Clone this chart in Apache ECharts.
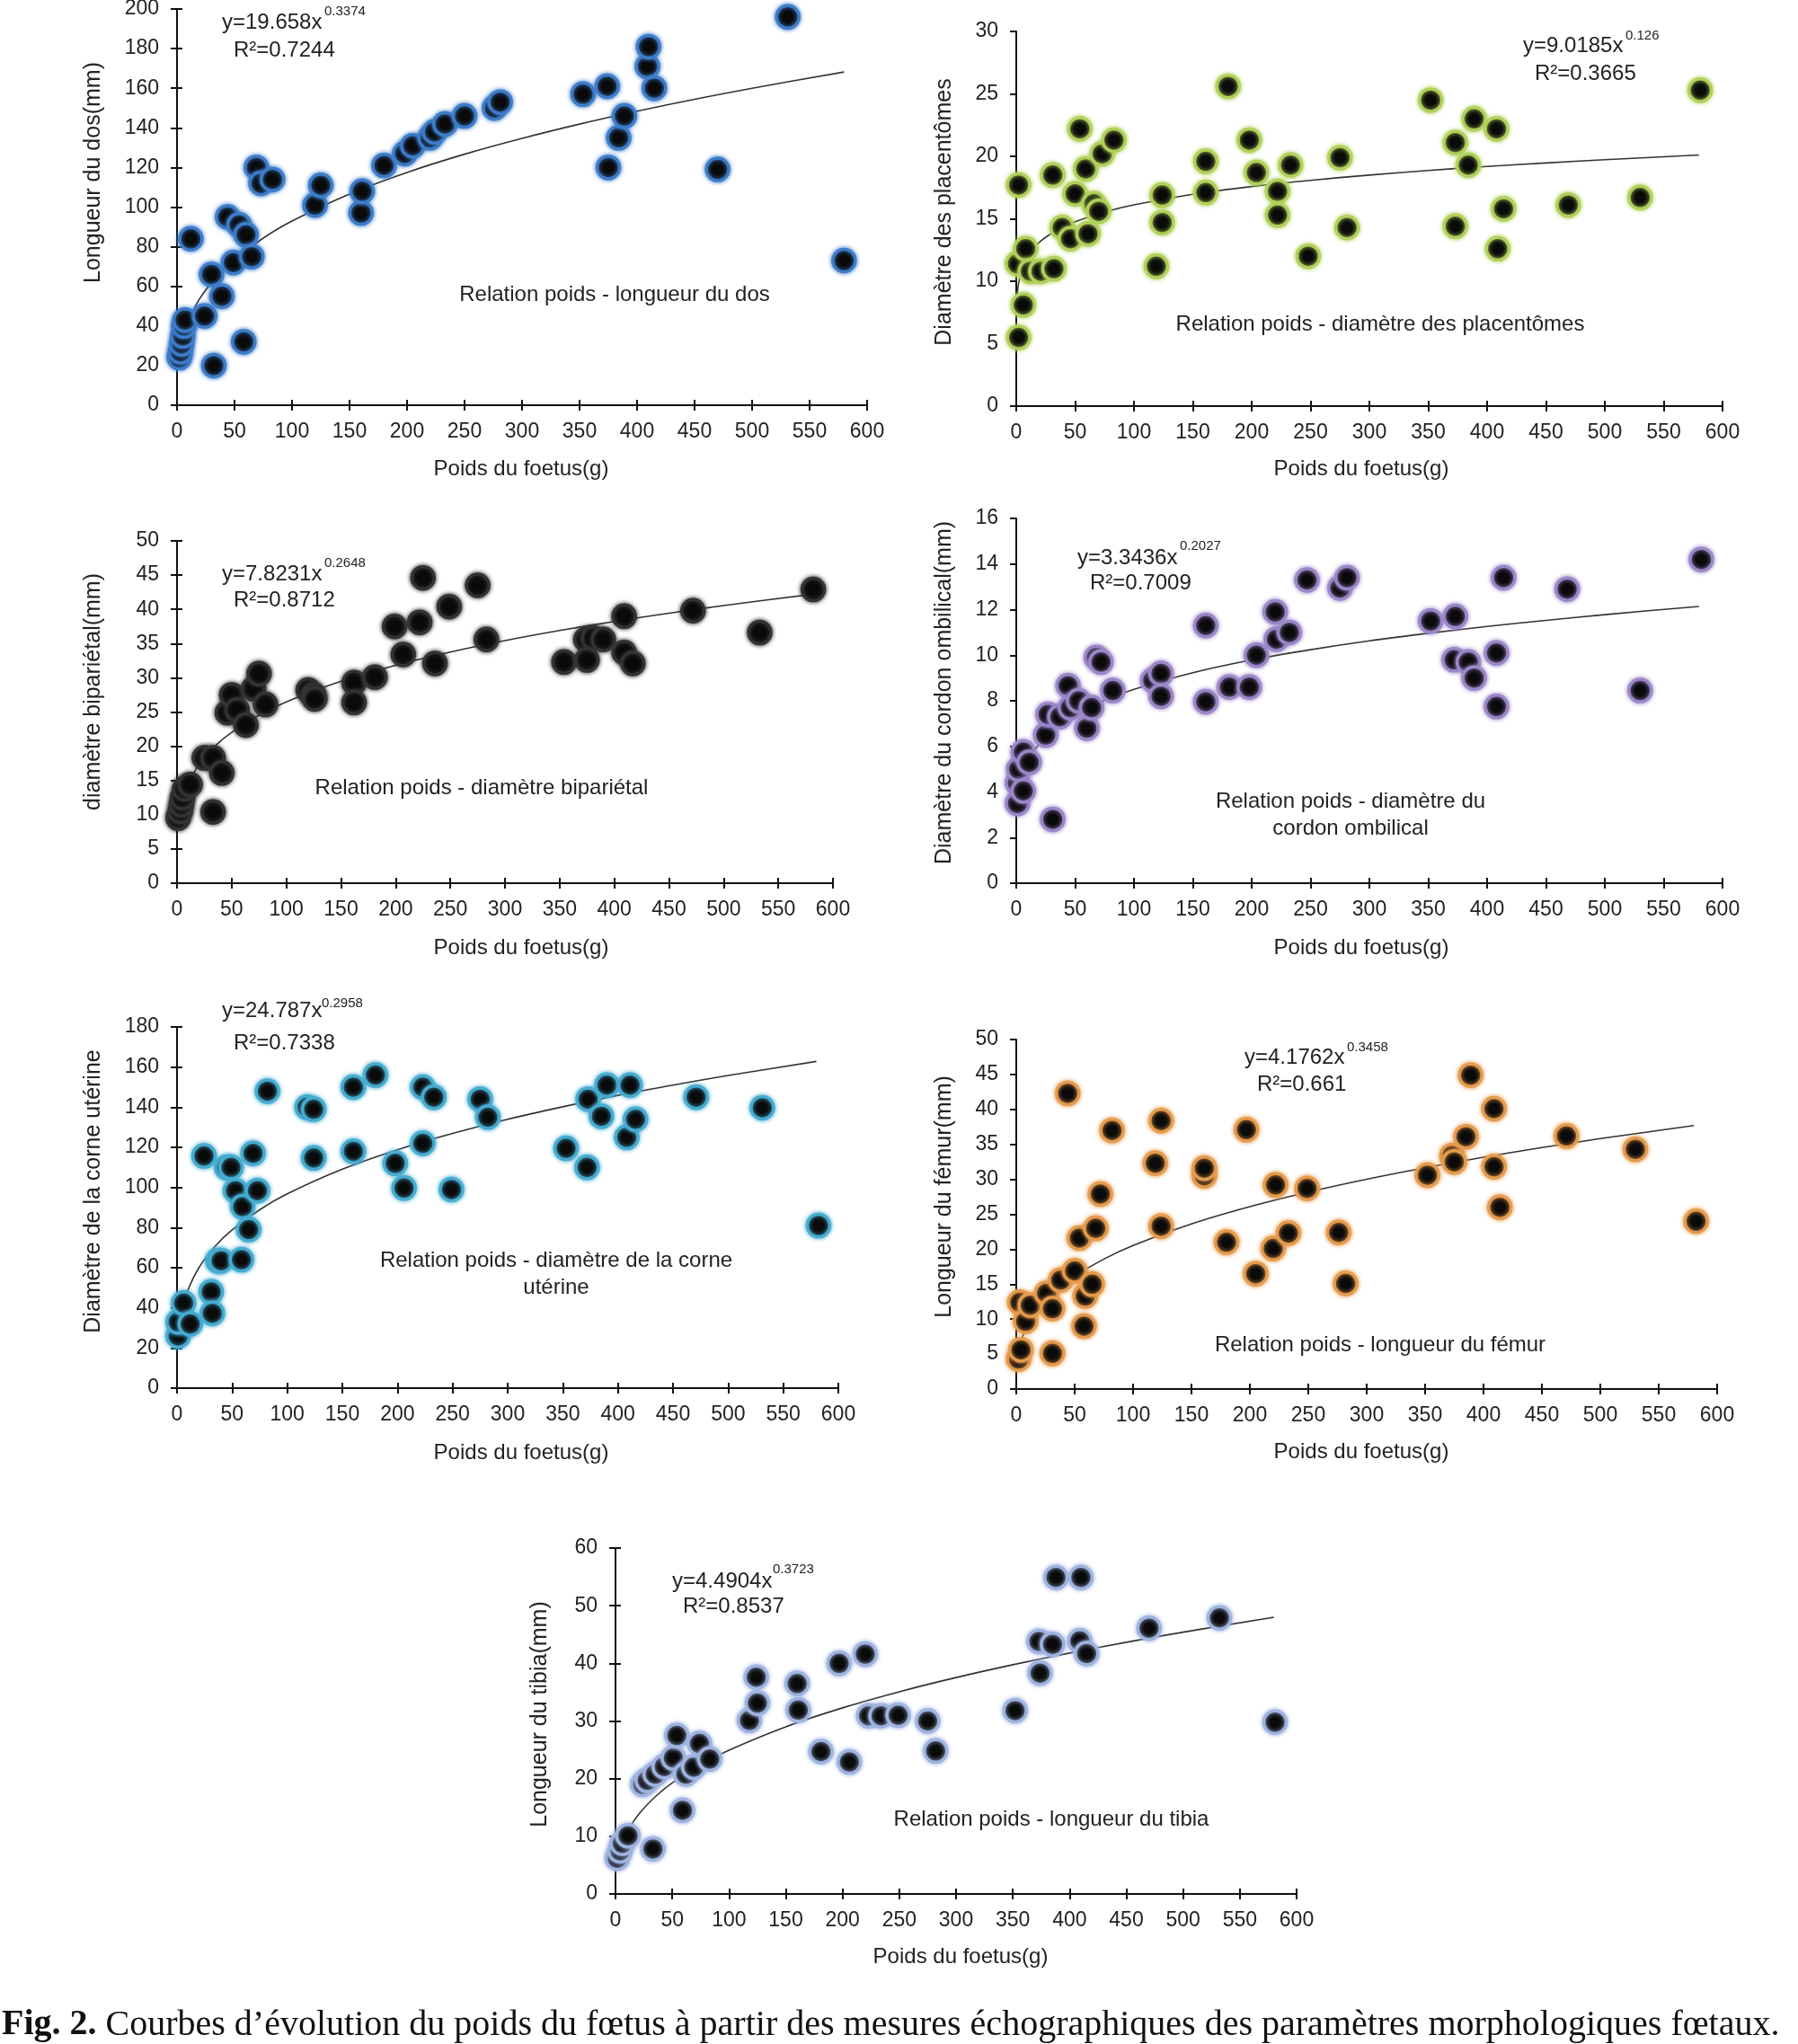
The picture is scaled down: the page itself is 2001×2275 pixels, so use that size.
<!DOCTYPE html>
<html><head><meta charset="utf-8">
<script src="https://cdn.jsdelivr.net/npm/echarts@6/dist/echarts.min.js"></script>
<style>html,body{margin:0;padding:0;background:#fff;}#c{width:2001px;height:2275px;}</style>
</head><body><div id="c"></div>
<script>
// ---- data (fetal weight g, measurement) ----
const dosPts = [[2,24],[3,27],[4,31],[5,35],[6,40],[7,43],[12,84],[24,45],[30,66],[32,20],[39,55],[44,95],[49,72],[54,91],[58,32],[60,86],[65,75],[69,120],[73,112],[83,114],[120,101],[125,111],[160,97],[161,108],[180,121],[198,127],[205,131],[220,135],[224,138],[233,142],[250,146],[276,150],[281,153],[353,157],[374,161],[375,120],[384,135],[389,146],[409,171],[410,181],[415,160],[470,119],[531,196],[580,73]];
const placPts = [[2,17.7],[2,5.5],[6,8.1],[1,11.4],[8,12.6],[12,10.8],[21,10.8],[32,11.0],[31,18.5],[39,14.3],[46,13.4],[50,17.0],[54,22.2],[59,19.0],[61,13.8],[66,16.2],[70,15.6],[73,20.2],[83,21.3],[119,11.2],[124,16.9],[124,14.7],[161,19.6],[161,17.1],[180,25.6],[198,21.3],[204,18.7],[222,17.2],[222,15.3],[233,19.3],[248,12.0],[275,19.9],[281,14.3],[352,24.5],[373,21.1],[373,14.4],[384,19.3],[389,23.0],[408,22.2],[409,12.6],[414,15.8],[469,16.1],[530,16.7],[581,25.3]];
const bipPts = [[1,9.5],[3,10.5],[4,11.5],[5,12.5],[7,13.8],[12,14.4],[25,18.3],[33,18.3],[33,10.4],[41,16.1],[46,24.9],[50,27.5],[55,25.3],[63,23.1],[70,28.4],[75,30.6],[81,26.1],[120,28.2],[125,27.5],[126,26.9],[162,29.3],[162,26.4],[181,30.1],[199,37.5],[207,33.4],[222,38.1],[225,44.6],[236,32.1],[249,40.4],[275,43.5],[283,35.6],[354,32.3],[374,35.6],[375,32.6],[381,35.8],[390,35.6],[409,39.0],[409,33.7],[417,32.1],[472,39.8],[533,36.6],[582,42.9]];
const cordPts = [[1,3.5],[1,4.4],[2,5.0],[6,4.05],[6,5.75],[11,5.3],[25,6.5],[27,7.4],[31,2.8],[37,7.3],[44,8.66],[46,7.7],[53,8.0],[60,6.8],[64,7.7],[68,9.9],[72,9.7],[82,8.45],[116,8.9],[123,9.2],[123,8.2],[161,11.3],[161,7.96],[181,8.6],[198,8.6],[204,10.0],[220,11.9],[221,10.7],[232,11.0],[247,13.3],[275,12.95],[281,13.4],[352,11.5],[372,9.8],[373,11.7],[384,9.7],[389,9.0],[408,10.1],[408,7.75],[414,13.4],[468,12.9],[530,8.45],[582,14.2]];
const cornePts = [[1,26],[1,33],[6,42.4],[12,32],[24.5,115.7],[31,48],[32,37.3],[37,63.5],[40,63.5],[45,110],[49,110],[53,98.4],[58.5,64],[59.5,90.4],[65,79],[69,117],[73,98.4],[82,148],[118,140],[124,139],[124,114.7],[160,150],[160,118],[180,156],[198,112],[206,99.7],[223,150],[223,122],[233,145],[249,99],[275,144],[282,135],[353,119.5],[372,110],[373,144],[385,135.5],[390,151],[408,125],[411,151],[416,134],[471,145],[531,139.7],[582,81]];
const femurPts = [[2,4.3],[4,5.6],[3,12.4],[8,9.7],[12,12.0],[26,13.7],[31,11.5],[31,5.1],[38,15.6],[44,42.3],[50,16.9],[54,21.6],[58,9.0],[59,13.3],[65,15.0],[68,23.0],[72,27.9],[82,37],[119,32.3],[124,38.4],[124,23.3],[161,30.5],[161,31.6],[180,21],[197,37.1],[205,16.5],[220,20.1],[222,29.2],[233,22.3],[249,28.7],[276,22.4],[282,15.1],[352,30.6],[373,33.4],[375,32.5],[385,36.1],[389,44.9],[409,40.1],[409,31.8],[414,26],[471,36.2],[530,34.3],[582,24]];
const tibiaPts = [[1.5,6.2],[4,7.5],[6,8.8],[11,10.1],[24,19],[28,19.7],[33,7.8],[35,20.8],[43,22.1],[51,23.6],[54,27.5],[59,14.5],[62,20.8],[69,22.0],[74,26.1],[83,23.4],[118,30.1],[124,37.6],[125,33.1],[160,36.5],[161,31.9],[181,24.7],[197,40.0],[206,22.9],[220,41.6],[223,30.9],[234,30.9],[249,31],[275,30.0],[282,24.8],[352,31.8],[373,43.8],[374,38.3],[385,43.3],[388,54.9],[409,43.9],[410,54.9],[415,41.7],[470,46.1],[532,47.9],[581,29.8]];

// trend curves (power fits shown on the figure), sampled at these weights
const trendX = [1,2,5,10,20,35,50,75,100,150,200,250,300,350,400,450,500,580];
const dosTrend = [19.66,24.84,33.83,42.75,54.02,65.24,73.58,84.37,92.97,106.6,117.5,126.7,134.7,141.9,148.4,154.4,160.0,168.2];
const placTrend = [9.02,9.84,11.05,12.05,13.15,14.12,14.76,15.54,16.11,16.96,17.58,18.08,18.50,18.87,19.19,19.47,19.73,20.11];
const bipTrend = [7.82,9.40,11.98,14.39,17.29,20.06,22.04,24.54,26.49,29.49,31.82,33.76,35.43,36.90,38.23,39.44,40.56,42.18];
const cordTrend = [3.34,3.85,4.63,5.33,6.14,6.87,7.39,8.02,8.50,9.23,9.79,10.24,10.63,10.96,11.26,11.53,11.78,12.14];
const corneTrend = [24.79,30.43,39.90,48.98,60.13,70.95,78.85,88.90,96.79,109.1,118.8,126.9,134.0,140.2,145.9,151.0,155.8,162.8];
const femurTrend = [4.18,5.31,7.29,9.26,11.77,14.28,16.16,18.59,20.53,23.62,26.09,28.18,30.02,31.66,33.16,34.54,35.82,37.70];
const tibiaTrend = [4.49,5.81,8.18,10.58,13.70,16.87,19.27,22.40,24.94,29.00,32.28,35.08,37.54,39.76,41.79,43.66,45.41,47.99];

const xTitle = 'Poids du foetus(g)';
const yTitles = ['Longueur du dos(mm)','Diamètre des placentômes','diamètre bipariétal(mm)','Diamètre du cordon ombilical(mm)','Diamètre de la corne utérine','Longueur du fémur(mm)','Longueur du tibia(mm)'];
const equations = [['y=19.658x','0.3374','R²=0.7244'],['y=9.0185x','0.126','R²=0.3665'],['y=7.8231x','0.2648','R²=0.8712'],['y=3.3436x','0.2027','R²=0.7009'],['y=24.787x','0.2958','R²=0.7338'],['y=4.1762x','0.3458','R²=0.661'],['y=4.4904x','0.3723','R²=0.8537']];
const relations = [['Relation poids - longueur du dos'],['Relation poids - diamètre des placentômes'],['Relation poids - diamètre bipariétal'],['Relation poids - diamètre du','cordon ombilical'],['Relation poids - diamètre de la corne','utérine'],['Relation poids - longueur du fémur'],['Relation poids - longueur du tibia']];
const caption = 'Courbes d’évolution du poids du fœtus à partir des mesures échographiques des paramètres morphologiques fœtaux.';

// ---- layout ----
const FONT = '"Liberation Sans", Arial, sans-serif';
const panels = [
  {pts:dosPts, trend:dosTrend, yMax:200, yStep:20, color:'#3d7cc9', g:[197,10,768,441], cross:true,
   yt:[104,192], xt:[580,522], eq:[247,25], sup:[361,13], r2:[260,56], rel:[684,328]},
  {pts:placPts, trend:placTrend, yMax:30, yStep:5, color:'#b0d05a', g:[1131,35,786,417], cross:false,
   yt:[1051,236], xt:[1515,522], eq:[1695,51], sup:[1809,40], r2:[1708,82], rel:[1536,361]},
  {pts:bipPts, trend:bipTrend, yMax:50, yStep:5, color:'#333333', g:[197,602,730,381], cross:true,
   yt:[104,770], xt:[580,1055], eq:[247,639], sup:[361,627], r2:[260,668], rel:[536,877]},
  {pts:cordPts, trend:cordTrend, yMax:16, yStep:2, color:'#9a86c8', g:[1131,577,786,406], cross:false,
   yt:[1051,771], xt:[1515,1055], eq:[1199,621], sup:[1313,608], r2:[1213,649], rel:[1503,892]},
  {pts:cornePts, trend:corneTrend, yMax:180, yStep:20, color:'#46abd0', g:[197,1143,736,402], cross:true,
   yt:[104,1326], xt:[580,1617], eq:[247,1125], sup:[358,1117], r2:[260,1161], rel:[619,1403]},
  {pts:femurPts, trend:femurTrend, yMax:50, yStep:5, color:'#e59a4c', g:[1131,1157,780,389], cross:false,
   yt:[1051,1332], xt:[1515,1616], eq:[1385,1177], sup:[1499,1166], r2:[1399,1207], rel:[1536,1497]},
  {pts:tibiaPts, trend:tibiaTrend, yMax:60, yStep:10, color:'#9fb3e0', g:[685,1723,758,385], cross:true,
   yt:[601,1908], xt:[1069,2178], eq:[748,1760], sup:[860,1747], r2:[760,1788], rel:[1170,2025]}
];

const grids=[], xAxes=[], yAxes=[], series=[], graphics=[];
const AX = '#111';
panels.forEach((p,i)=>{
  grids.push({left:p.g[0], top:p.g[1], width:p.g[2], height:p.g[3], containLabel:false, outerBoundsMode:'none'});
  const line = {show:true, onZero:false, lineStyle:{color:AX, width:2}};
  xAxes.push({gridIndex:i, type:'value', position:'bottom', min:0, max:600, interval:50,
    axisLine:line, axisTick:{show:true, inside:false, length:6, lineStyle:{color:AX, width:2}},
    axisLabel:{fontFamily:FONT, fontSize:23, color:'#222', margin:18}, splitLine:{show:false}});
  xAxes.push({gridIndex:i, type:'value', position:'bottom', min:0, max:600, interval:50,
    axisLine:{show:false}, axisTick:{show:true, inside:true, length:6, lineStyle:{color:AX, width:2}},
    axisLabel:{show:false}, splitLine:{show:false}});
  yAxes.push({gridIndex:i, type:'value', position:'left', min:0, max:p.yMax, interval:p.yStep,
    axisLine:line, axisTick:{show:true, inside:false, length:7, lineStyle:{color:AX, width:2}},
    axisLabel:{fontFamily:FONT, fontSize:23, color:'#222', margin:20}, splitLine:{show:false}});
  yAxes.push({gridIndex:i, type:'value', position:'left', min:0, max:p.yMax, interval:p.yStep,
    axisLine:{show:false}, axisTick:{show:p.cross, inside:true, length:6, lineStyle:{color:AX, width:2}},
    axisLabel:{show:false}, splitLine:{show:false}});
  series.push({type:'line', xAxisIndex:2*i, yAxisIndex:2*i, data:trendX.map((x,k)=>[x,p.trend[k]]),
    smooth:0.3, symbol:'none', lineStyle:{color:'#333', width:1.6}, z:1, silent:true});
  series.push({type:'scatter', xAxisIndex:2*i, yAxisIndex:2*i, data:p.pts, symbolSize:25,
    itemStyle:{color:'#0a0a0a', borderColor:p.color, borderWidth:3.5, shadowBlur:5, shadowColor:p.color, opacity:1}, z:3});

  graphics.push({type:'text', x:p.yt[0], y:p.yt[1], rotation:Math.PI/2,
    style:{text:yTitles[i], font:'25px '+FONT, fill:'#222', align:'center', verticalAlign:'middle'}});
  graphics.push({type:'text', x:p.xt[0], y:p.xt[1],
    style:{text:xTitle, font:'24px '+FONT, fill:'#222', align:'center', verticalAlign:'middle'}});
  graphics.push({type:'text', x:p.eq[0], y:p.eq[1],
    style:{text:equations[i][0], font:'24px '+FONT, fill:'#222', align:'left', verticalAlign:'middle'}});
  graphics.push({type:'text', x:p.sup[0], y:p.sup[1],
    style:{text:equations[i][1], font:'15px '+FONT, fill:'#222', align:'left', verticalAlign:'middle'}});
  graphics.push({type:'text', x:p.r2[0], y:p.r2[1],
    style:{text:equations[i][2], font:'24px '+FONT, fill:'#222', align:'left', verticalAlign:'middle'}});
  relations[i].forEach((t,k)=>{
    graphics.push({type:'text', x:p.rel[0], y:p.rel[1]+k*30,
      style:{text:t, font:'24px '+FONT, fill:'#222', align:'center', verticalAlign:'middle'}});
  });
});
graphics.push({type:'text', x:2, y:2254,
  style:{text:'{b|Fig. 2.} '+caption, font:'40px "Liberation Serif", "Times New Roman", serif', fill:'#111',
    align:'left', verticalAlign:'middle',
    rich:{b:{fontWeight:'bold', fontSize:40, fontFamily:'"Liberation Serif", serif', fill:'#111'}}}});

const chart = echarts.init(document.getElementById('c'), null, {renderer:'canvas', width:2001, height:2275});
chart.setOption({animation:false, backgroundColor:'#fff', grid:grids, xAxis:xAxes, yAxis:yAxes, series:series, graphic:graphics});
</script></body></html>
